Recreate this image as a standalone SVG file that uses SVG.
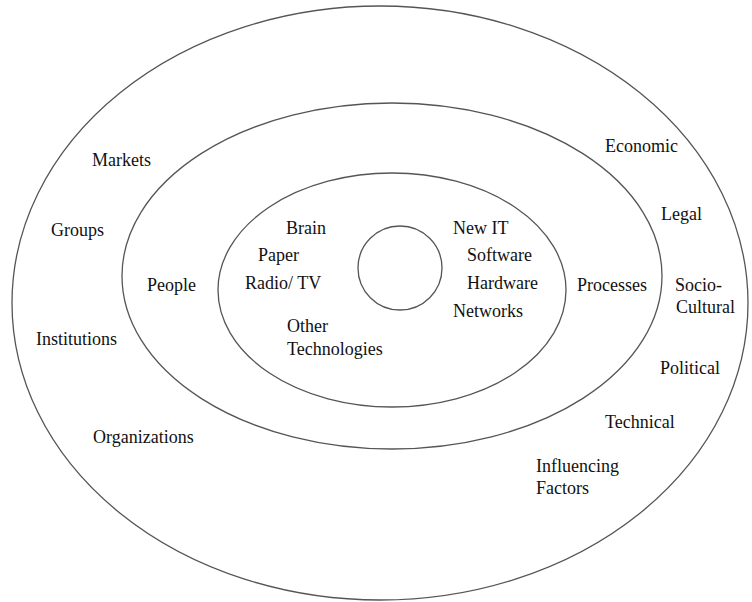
<svg xmlns="http://www.w3.org/2000/svg" width="752" height="602" viewBox="0 0 752 602">
<style>
.ring{fill:none;stroke:#555;stroke-width:1.3}
</style>
<rect width="752" height="602" fill="#fff"/>
<g id="outer-ring"><ellipse class="ring" cx="380" cy="303" rx="368" ry="297"/></g>
<g id="middle-ring"><ellipse class="ring" cx="392" cy="276" rx="270" ry="173"/></g>
<g id="inner-ring"><ellipse class="ring" cx="392" cy="290" rx="174" ry="117"/></g>
<g id="core"><circle class="ring" cx="400" cy="268" r="42"/></g>
<g id="outer-labels" font-family="Liberation Serif, serif" font-size="18" fill="#111">
<text x="92" y="166">Markets</text>
<text x="51" y="236">Groups</text>
<text x="36" y="345">Institutions</text>
<text x="93" y="443">Organizations</text>
<text x="605" y="152">Economic</text>
<text x="661" y="220">Legal</text>
<text x="675" y="291">Socio-</text>
<text x="676" y="313">Cultural</text>
<text x="660" y="374">Political</text>
<text x="605" y="428">Technical</text>
<text x="536" y="472">Influencing</text>
<text x="536" y="494">Factors</text>
</g>
<g id="middle-labels" font-family="Liberation Serif, serif" font-size="18" fill="#111">
<text x="147" y="291">People</text>
<text x="577" y="291">Processes</text>
</g>
<g id="inner-labels" font-family="Liberation Serif, serif" font-size="18" fill="#111">
<text x="286" y="234">Brain</text>
<text x="258" y="261">Paper</text>
<text x="245" y="289">Radio/ TV</text>
<text x="287" y="332">Other</text>
<text x="287" y="355">Technologies</text>
<text x="453" y="234">New IT</text>
<text x="467" y="261">Software</text>
<text x="467" y="289">Hardware</text>
<text x="453" y="317">Networks</text>
</g>
</svg>
